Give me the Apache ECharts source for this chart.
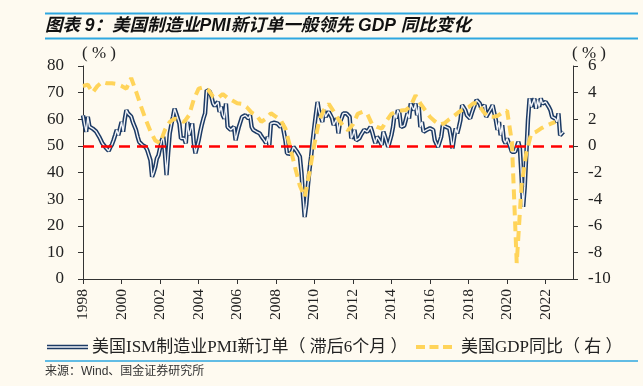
<!DOCTYPE html>
<html>
<head>
<meta charset="utf-8">
<script src="https://cdn.jsdelivr.net/npm/echarts@6/dist/echarts.min.js"></script>
<style>
html,body{margin:0;padding:0;background:#FEFAF0;}
#c{width:643px;height:386px;}
</style>
</head>
<body>
<div id="c"></div>
<script>
// ---- Data ----
const startYear = 1998;
const yearTicks = [1998, 2000, 2002, 2004, 2006, 2008, 2010, 2012, 2014, 2016, 2018, 2020, 2022];
const leftTicks = [0, 10, 20, 30, 40, 50, 60, 70, 80];
const rightTicks = [-10, -8, -6, -4, -2, 0, 2, 4, 6];

// US ISM manufacturing PMI new orders (lagged 6 months), monthly from Jan 1998
const pmi1998_2003 = [
  61.5, 58, 55.3, 60.9, 57.2, 57.8, 56.5, 56.0, 55.5, 55.3, 53.5, 52.3,
  51.0, 50.3, 49.5, 49.0, 48.1, 49.5, 50.5, 52.1, 54, 56, 54, 56.5,
  59, 55.3, 60, 63.4, 62.2, 62.8, 61, 59, 57.5, 56, 53.5, 51.5,
  50.8, 50.3, 50, 49.6, 48.4, 46.5, 44.6, 38.4, 40, 42.1, 45.3, 46.5,
  47.2, 52.1, 53.4, 47.2, 39.0, 47.2, 54.7, 58, 60.9, 64.0, 62.2, 62.8,
  58.4, 52.8, 53.5, 52.8, 51, 59, 54, 56, 58.4, 51, 47.2, 47.2
];
const pmi2004_2009 = [
  52.1, 55.3, 58, 60.3, 62.2, 70.9, 70.3, 70.3, 68.4, 65.9, 65, 64.7,
  66.5, 62.8, 64.7, 61.5, 60.3, 65.9, 57.1, 57.8, 56, 56.5, 57.1, 52.1,
  54.7, 57.1, 59, 60.9, 61.2, 61.5, 61, 60.3, 61.5, 57.1, 56, 55.6,
  55.3, 55, 54.7, 53.7, 52.8, 52, 51, 53.4, 50.3, 58.4, 59, 58.7,
  58.5, 58.4, 57.8, 57.1, 58.4, 55.3, 52.1, 47.2, 46.5, 47, 47.8, 49.6,
  49, 48, 47, 46, 40, 31, 23.3, 28, 35, 41, 46, 52
];
const pmi2010_2015 = [
  57.1, 62, 66.5, 62.8, 61, 59, 63.4, 60.9, 62, 62.8, 63.4, 60.5,
  57.8, 59, 60.3, 54.7, 59, 60.5, 62.2, 62, 62.2, 61.5, 60.9, 52.8,
  54, 56, 52.1, 52.5, 52.8, 54, 55, 56, 55.6, 55.3, 56.2, 57.1,
  55.3, 53, 51, 53.4, 52.5, 51.5, 50.3, 55.3, 53.5, 51.5, 49.6, 50.3,
  54, 57.1, 62.2, 60.3, 63.4, 62.2, 57.1, 57.5, 57.6, 57.8, 62.2, 60.3,
  65.9, 64.5, 63.4, 65.9, 61.5, 64.7, 57.1, 59, 55.3, 55.6, 56, 56.3
];
const pmi2016_2022 = [
  56.6, 56.3, 56, 52.1, 50.8, 49.6, 49, 53.4, 57.8, 57.4, 57.1, 56.8,
  56.6, 53.4, 49, 53, 56.6, 54.7, 57, 59.7, 65.3, 64.4, 63.4, 61.5,
  61, 60.3, 62.2, 64, 65.6, 67.2, 66.5, 65.9, 64, 64.6, 65.3, 60.9,
  62, 63, 64, 65.3, 62.5, 59.7, 56, 59, 54, 57.8, 52.1, 51,
  52.8, 51.2, 49.6, 47.8, 48.4, 47.8, 47.2, 51.5, 49, 38.4, 27.1, 34.6,
  47.2, 59.7, 67.8, 64.7, 66.3, 67.8, 64, 67.2, 64.7, 67.8, 65.9, 66.2,
  66.5, 65.9, 64.6, 63.4, 60.9, 61.5, 60.2, 59, 62.2, 54, 54.3, 55.3
];

// US GDP YoY (right axis), quarterly, first point at start of 1998
const gdpValues = [
  4.5, 4.6, 4.0, 4.5, 4.8, 4.7, 4.7, 4.65, 4.5, 4.3, 5.1, 4.1,
  3.0, 2.0, 1.1, 0.4, 0.2, 1.2, 1.8, 2.05, 1.95, 1.8, 2.3, 3.5,
  4.3, 4.4, 4.2, 3.7, 3.6, 3.9, 3.6, 3.4, 3.2, 3.15, 2.9, 2.5,
  2.3, 1.8, 2.05, 2.45, 2.2, 1.95, 1.3, -0.1, -1.6, -3.0, -3.85, -2.0,
  0.1, 1.9, 2.7, 3.15, 2.6, 2.0, 1.5, 1.17, 1.6, 2.4, 2.55, 2.4,
  1.6, 1.42, 1.3, 1.9, 2.4, 2.55, 2.65, 2.7, 3.0, 3.8, 3.2, 2.68,
  2.18, 1.85, 1.6, 1.7, 2.0, 2.25, 2.55, 2.75, 2.9, 3.2, 3.2, 2.6,
  2.2, 2.18, 2.25, 2.5, 2.65, 0.3, -8.8, -3.0, -0.5, 0.9, 1.05, 1.3,
  1.5, 1.65, 1.8
];

const seriesNames = ['美国ISM制造业PMI新订单（ 滞后6个月 ）', '美国GDP同比（ 右 ）'];
const titleText = '图表 9：美国制造业PMI新订单一般领先 GDP 同比变化';
const sourceText = '来源：Wind、国金证券研究所';
const unitText = '( % )';

// ---- Build series data ----
const pmiValues = pmi1998_2003.concat(pmi2004_2009, pmi2010_2015, pmi2016_2022);
const pmiData = pmiValues.map((v, i) => [startYear + i / 12, v]);
const gdpData = gdpValues.map((v, i) => [startYear + i / 4, v]);

const serif = "'Liberation Serif', 'Noto Sans CJK SC', serif";
const sans = "'Liberation Sans', 'Noto Sans CJK SC', sans-serif";
const navy = '#1C3A64';
const yellow = '#FFD45A';
const blueRule = '#2EA7E0';
const axisColor = '#333333';

const chart = echarts.init(document.getElementById('c'), null, {renderer: 'canvas'});
chart.setOption({
  backgroundColor: '#FEFAF0',
  animation: false,
  grid: {left: 83, right: 70, top: 66, bottom: 107, containLabel: false},
  xAxis: {
    type: 'value',
    min: 1998,
    max: 2023.42,
    splitLine: {show: false},
    axisLine: {lineStyle: {color: axisColor, width: 1}},
    axisTick: {show: true, length: 5, lineStyle: {color: axisColor}, customValues: yearTicks},
    axisLabel: {
      customValues: yearTicks,
      rotate: 90,
      margin: 10,
      fontFamily: serif,
      fontSize: 15.5,
      color: '#222',
      formatter: v => String(Math.round(v))
    }
  },
  yAxis: [
    {
      type: 'value', min: 0, max: 80, interval: 10, position: 'left',
      splitLine: {show: false},
      axisLine: {show: true, lineStyle: {color: axisColor, width: 1}},
      axisTick: {show: true, length: 5, lineStyle: {color: axisColor}},
      axisLabel: {margin: 19, fontFamily: serif, fontSize: 17, color: '#222',
        formatter: v => leftTicks.includes(v) ? String(v) : ''}
    },
    {
      type: 'value', min: -10, max: 6, interval: 2, position: 'right',
      splitLine: {show: false},
      axisLine: {show: true, lineStyle: {color: axisColor, width: 1}},
      axisTick: {show: true, length: 5, lineStyle: {color: axisColor}},
      axisLabel: {margin: 15, fontFamily: serif, fontSize: 17, color: '#222',
        formatter: v => rightTicks.includes(v) ? String(v) : ''}
    }
  ],
  series: [
    {
      name: seriesNames[0] + '-outline', type: 'line', yAxisIndex: 0, data: pmiData,
      showSymbol: false, silent: true, z: 2,
      lineStyle: {color: navy, width: 4.4}
    },
    {
      name: seriesNames[0], type: 'line', yAxisIndex: 0, data: pmiData,
      showSymbol: false, silent: true, z: 3,
      lineStyle: {color: '#F2F4F8', width: 1.4},
      markLine: {
        symbol: 'none', silent: true, label: {show: false},
        lineStyle: {color: '#FF0000', width: 2.5, type: [11, 7]},
        data: [{yAxis: 50}]
      }
    },
    {
      name: seriesNames[1], type: 'line', yAxisIndex: 1, data: gdpData,
      showSymbol: false, silent: true, z: 4,
      lineStyle: {color: yellow, width: 4, type: [10, 6]}
    }
  ],
  graphic: [
    {type: 'line', shape: {x1: 45, y1: 13.5, x2: 638, y2: 13.5}, style: {stroke: blueRule, lineWidth: 2}},
    {type: 'text', x: 45, y: 26, style: {text: titleText, font: "italic bold 17.5px " + sans, fill: '#111', verticalAlign: 'middle'}},
    {type: 'line', shape: {x1: 45, y1: 38.5, x2: 638, y2: 38.5}, style: {stroke: blueRule, lineWidth: 2}},
    {type: 'text', x: 82, y: 54, style: {text: unitText, font: "17px " + serif, fill: '#222', verticalAlign: 'middle'}},
    {type: 'text', x: 572, y: 54, style: {text: unitText, font: "17px " + serif, fill: '#222', verticalAlign: 'middle'}},
    {type: 'line', shape: {x1: 47, y1: 347, x2: 88, y2: 347}, style: {stroke: navy, lineWidth: 4.4}},
    {type: 'line', shape: {x1: 47, y1: 347, x2: 88, y2: 347}, style: {stroke: '#F2F4F8', lineWidth: 1.4}},
    {type: 'text', x: 92, y: 348, style: {text: seriesNames[0], font: "17px " + serif, fill: '#222', verticalAlign: 'middle'}},
    {type: 'line', shape: {x1: 416, y1: 347, x2: 452, y2: 347}, style: {stroke: yellow, lineWidth: 4, lineDash: [9, 4.5]}},
    {type: 'text', x: 461, y: 348, style: {text: seriesNames[1], font: "17px " + serif, fill: '#222', verticalAlign: 'middle'}},
    {type: 'line', shape: {x1: 45, y1: 361, x2: 638, y2: 361}, style: {stroke: blueRule, lineWidth: 1.5}},
    {type: 'text', x: 45, y: 372, style: {text: sourceText, font: "12px " + sans, fill: '#333', verticalAlign: 'middle'}}
  ]
});
</script>
</body>
</html>
